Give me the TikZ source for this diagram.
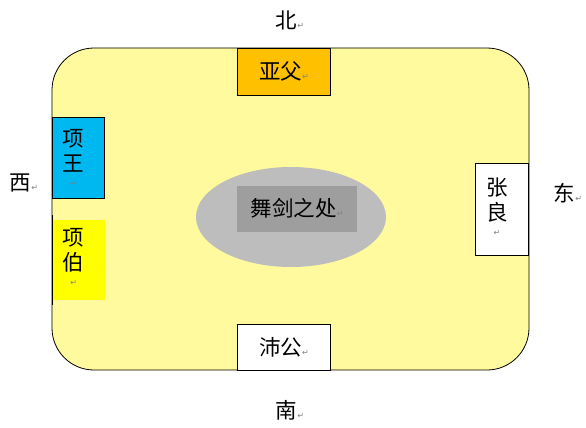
\documentclass[tikz,border=0pt]{standalone}
\usepackage{fontspec}
\newfontfamily\cjk{Noto Sans CJK SC}
\newfontfamily\dv{DejaVu Sans}
\usetikzlibrary{shapes.geometric}
\definecolor{field}{HTML}{FFFA9E}
\definecolor{gold}{HTML}{FFC000}
\definecolor{cyanbox}{HTML}{00B8F0}
\definecolor{yel}{HTML}{FFFF00}
\definecolor{ell}{HTML}{BDBDBD}
\definecolor{inner}{HTML}{9E9E9E}
\newcommand{\parmark}{{\dv\fontsize{8}{8}\selectfont\color{gray}↵}}
\tikzset{
  lbl/.style={font=\cjk\fontsize{21.5}{25}\selectfont, text=black, inner sep=0pt},
  seat/.style={draw=black, line width=0.8pt},
}
\begin{document}
\begin{tikzpicture}[x=1pt,y=-1pt]
\useasboundingbox (0,0) rectangle (586,428);
\fill[white] (0,0) rectangle (586,428);
% field
\draw[fill=field, line width=0.8pt, rounded corners=42pt] (52,48) rectangle (529,370);
% seats
\node[seat, fill=gold, minimum width=93pt, minimum height=47pt, anchor=north west, inner sep=0pt] (yafu) at (237,48) {};
\node[lbl] at (yafu.center) {亚父\parmark};
\node[seat, fill=cyanbox, minimum width=52pt, minimum height=81pt, anchor=north west, inner sep=0pt] (xiangwang) at (52,117) {};
\node[lbl, align=center] at ([xshift=-5pt]xiangwang.center) {项\\王\\[-10pt]\parmark};
\node[fill=yel, minimum width=53pt, minimum height=80pt, anchor=north west, inner sep=0pt] (xiangbo) at (52,220) {};
\draw[line width=0.8pt] (52,215) -- (52,305);
\node[lbl, align=center] at ([xshift=-5pt,yshift=3pt]xiangbo.center) {项\\伯\\[-10pt]\parmark};
\node[seat, fill=white, minimum width=53pt, minimum height=92pt, anchor=north west, inner sep=0pt] (zhangliang) at (475,163) {};
\node[lbl, align=center] at ([xshift=-5pt,yshift=3pt]zhangliang.center) {张\\良\\[-10pt]\parmark};
\node[seat, fill=white, minimum width=93pt, minimum height=46pt, anchor=north west, inner sep=0pt] (peigong) at (237,324) {};
\node[lbl] at (peigong.center) {沛公\parmark};
% center
\node[ellipse, fill=ell, minimum width=190pt, minimum height=100pt, inner sep=0pt] (arena) at (291,217) {};
\node[fill=inner, minimum width=120pt, minimum height=46pt, inner sep=0pt, anchor=north west] (spot) at (237,186) {};
\node[lbl] at ([yshift=1pt]spot.center) {舞剑之处\parmark};
% directions
\node[lbl] (bei) at (290,20) {北\parmark};
\node[lbl] (xi) at (24,183) {西\parmark};
\node[lbl] (dong) at (568,193) {东\parmark};
\node[lbl] (nan) at (290,410) {南\parmark};
\end{tikzpicture}
\end{document}
